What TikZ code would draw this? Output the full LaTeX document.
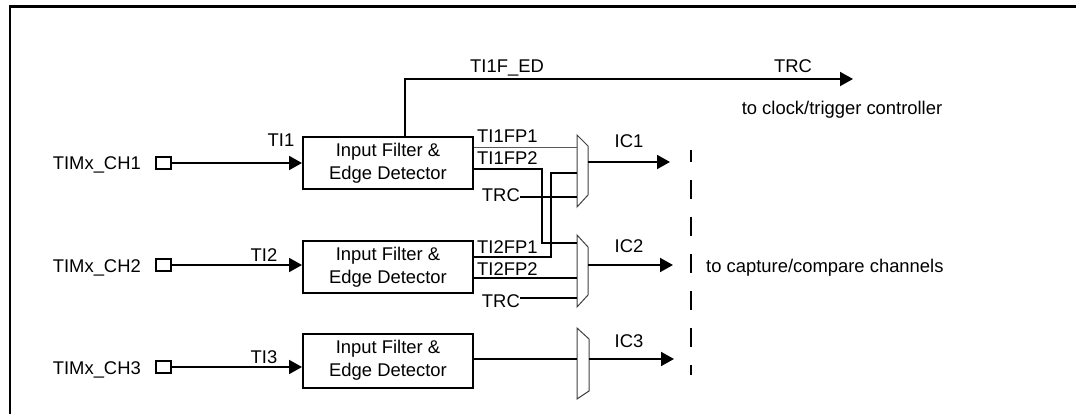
\documentclass[tikz,border=0pt]{standalone}
\usepackage{fontspec}
\setmainfont{Liberation Sans}
\usetikzlibrary{arrows.meta}
\begin{document}
\begin{tikzpicture}[x=1pt,y=-1pt,
  every node/.style={font=\fontsize{18.4}{23}\selectfont,inner sep=0pt},
  wire/.style={line width=2pt},
  thin wire/.style={line width=1pt,draw=black!65},
  sig/.style={wire,-{Triangle[length=13pt,width=14pt]}},
  fbox/.style={draw,line width=2pt,minimum width=170pt,minimum height=52pt,align=center},
  pad/.style={draw,line width=1.5pt,minimum width=15pt,minimum height=12pt},
  muxshape/.style={line width=1pt,draw=black!75,fill=white},
  lbl/.style={anchor=base},
  frame/.style={line width=2.2pt}]
\useasboundingbox (0,0) rectangle (1076,414);
% frame
\draw[frame] (10,414) -- (10,6.5) -- (1077,6.5);

% pads and channel names
\foreach \i/\y in {1/163,2/265,3/367}{
  \node[pad] (pad\i) at (163.5,\y) {};
  \node[anchor=base east] (ch\i) at (141,\y+7) {TIMx\_CH\i};
}
% filter boxes
\node[fbox] (f1) at (388,163) {Input Filter \&\\Edge Detector};
\node[fbox] (f2) at (388,267) {Input Filter \&\\Edge Detector};
\node[fbox,minimum height=54pt] (f3) at (388,360.5) {Input Filter \&\\Edge Detector};

\draw[sig] (pad1.east) -- (f1.west |- pad1.east);
\draw[sig] (pad2.east) -- (f2.west |- pad2.east);
\draw[sig] (pad3.east) -- (f3.west |- pad3.east);
\node[lbl] (ti1) at (281,146.6) {TI1};
\node[lbl] (ti2) at (264,261.6) {TI2};
\node[lbl] (ti3) at (264,363.6) {TI3};

% muxes
\draw[muxshape] (577,135) -- (588,146) -- (588,195) -- (577,207) -- cycle;
\draw[muxshape] (577,235) -- (588,247) -- (588,295) -- (577,307) -- cycle;
\draw[muxshape] (577,328) -- (589,339) -- (589,391) -- (577,399) -- cycle;
\coordinate (m1a) at (577,148);
\coordinate (m1b) at (577,173);
\coordinate (m1c) at (577,197);
\coordinate (m1o) at (588,162);
\coordinate (m2a) at (577,243);
\coordinate (m2b) at (577,278);
\coordinate (m2c) at (577,298);
\coordinate (m2o) at (588,265);
\coordinate (m3a) at (577,359);
\coordinate (m3o) at (589,359);

% TI1F_ED to TRC
\coordinate (trcend) at (853,79);
\draw[sig] (405,137) -- (405,79) -- (trcend);
\node[lbl] (tied) at (507,72.6) {TI1F\_ED};
\node[lbl] (trctop) at (793,72.6) {TRC};
\node[lbl] (clk) at (842,115) {to clock/trigger controller};

% channel 1 outputs
\draw[thin wire] (f1.east |- m1a) -- (m1a);
\node[anchor=base west] (fp11) at (477,143) {TI1FP1};
\draw[wire] (f1.east |- 0,169) -- (542,169) -- (542,243) -- (m2a);
\node[anchor=base west] (fp12) at (477,165) {TI1FP2};
\node[anchor=base east] (trc1) at (520,202) {TRC};
\draw[wire] (trc1.east |- m1c) -- (m1c);

% channel 2 outputs
\draw[wire] (f2.east |- 0,257) -- (551,257) -- (551,173) -- (m1b);
\node[anchor=base west] (fp21) at (477,253) {TI2FP1};
\draw[wire] (f2.east |- m2b) -- (m2b);
\node[anchor=base west] (fp22) at (477,275) {TI2FP2};
\node[anchor=base east] (trc2) at (520,307) {TRC};
\draw[wire] (trc2.east |- m2c) -- (m2c);

% channel 3 output
\draw[wire] (f3.east |- m3a) -- (m3a);

% IC outputs
\coordinate (ic1e) at (670,162);
\coordinate (ic2e) at (673,265);
\coordinate (ic3e) at (674,359);
\draw[sig] (m1o) -- (ic1e);
\draw[sig] (m2o) -- (ic2e);
\draw[sig] (m3o) -- (ic3e);
\node[lbl] (ic1) at (629,148) {IC1};
\node[lbl] (ic2) at (629,252) {IC2};
\node[lbl] (ic3) at (629,347) {IC3};

% dashed boundary
\draw[line width=2pt,dash pattern=on 19pt off 18pt,dash phase=7pt] (691,150) -- (691,375);
\node[anchor=base west] (cap) at (706,272.5) {to capture/compare channels};
\end{tikzpicture}
\end{document}
